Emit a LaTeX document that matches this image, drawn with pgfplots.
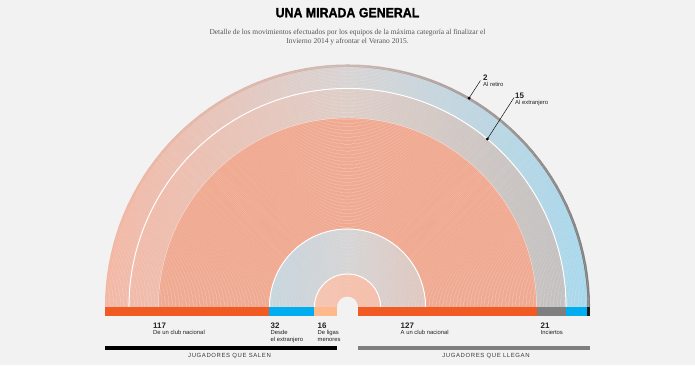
\documentclass[border=0pt]{standalone}
\usepackage{fontspec}
\setmainfont{Liberation Sans}
\newfontfamily\subfont{Liberation Serif}
\newfontfamily\capfont{Liberation Sans}[LetterSpace=10]
\newfontfamily\titlefont{Liberation Sans Bold}[FakeStretch=0.92, FakeBold=1.3]
\usepackage{pgfplots}
\pgfplotsset{compat=1.18}
\definecolor{bg}{HTML}{F2F2F2}
\definecolor{cOrange}{HTML}{F15A22}
\definecolor{cBlue}{HTML}{00AEEF}
\definecolor{cPeach}{HTML}{FDB98B}
\definecolor{cGray}{HTML}{7F7F7F}
\definecolor{cDark}{HTML}{1A1A1A}
\definecolor{arcOO}{HTML}{F1AA92}
\definecolor{txt}{HTML}{222222}
\definecolor{subtxt}{HTML}{555555}
\definecolor{captxt}{HTML}{3A3A3A}
\pgfplotsset{
  colormap={cmOD}{rgb255(0cm)=(243,182,163) rgb255(1cm)=(205,184,178) rgb255(2cm)=(130,130,130)},
  colormap={cmOB}{rgb255(0cm)=(244,184,165) rgb255(1cm)=(216,212,212) rgb255(2cm)=(168,216,237)},
  colormap={cmOG}{rgb255(0cm)=(244,184,165) rgb255(1cm)=(222,206,200) rgb255(2cm)=(192,192,192)},
  colormap={cmBO}{rgb255(0cm)=(166,215,236) rgb255(1cm)=(215,213,214) rgb255(2cm)=(241,170,146)},
  colormap={cmPO}{rgb255(0cm)=(249,218,202) rgb255(1cm)=(241,170,146)},
}
\begin{document}
\begin{tikzpicture}[x=1bp,y=1bp]
\path[use as bounding box, fill=bg] (0,0) rectangle (695,365);
\begin{axis}[
  x=1.405797bp, y=1.405797bp,
  xmin=-172.5, xmax=172.5, ymin=-10, ymax=175,
  hide axis, clip=false,
  anchor=south west, at={(105bp,43.942bp)},
  every axis plot/.append style={line cap=round, line join=round},
]
% arcs: slot i (0 = outermost) joins left slot i to right slot i, radius 172-i
\pgfplotsinvokeforeach{0,...,1}{
  \addplot[mesh, colormap name=cmOD, line width=1.5bp, domain=0:180, samples=73, point meta=x]
    ({(172-#1)*cos(x)},{(172-#1)*sin(x)});
}
\pgfplotsinvokeforeach{2,...,16}{
  \addplot[mesh, colormap name=cmOB, line width=1.5bp, domain=0:180, samples=73, point meta=x]
    ({(172-#1)*cos(x)},{(172-#1)*sin(x)});
}
\pgfplotsinvokeforeach{17,...,37}{
  \addplot[mesh, colormap name=cmOG, line width=1.5bp, domain=0:180, samples=73, point meta=x]
    ({(172-#1)*cos(x)},{(172-#1)*sin(x)});
}
\pgfplotsinvokeforeach{38,...,116}{
  \addplot[draw=arcOO, line width=1.5bp, domain=0:180, samples=37, smooth]
    ({(172-#1)*cos(x)},{(172-#1)*sin(x)});
}
\pgfplotsinvokeforeach{117,...,148}{
  \addplot[mesh, colormap name=cmBO, line width=1.5bp, domain=0:180, samples=49, point meta=x]
    ({(172-#1)*cos(x)},{(172-#1)*sin(x)});
}
\pgfplotsinvokeforeach{149,...,164}{
  \addplot[mesh, colormap name=cmPO, line width=1.5bp, domain=0:180, samples=31, point meta=x]
    ({(172-#1)*cos(x)},{(172-#1)*sin(x)});
}
% white separators between groups
\pgfplotsinvokeforeach{155.5,55.5,23.5}{
  \addplot[white, line width=1.0bp, domain=0:180, samples=37, smooth]
    ({#1*cos(x)},{#1*sin(x)});
}
\addplot[white, opacity=0.45, line width=0.6bp, domain=0:180, samples=37, smooth]
    ({134.5*cos(x)},{134.5*sin(x)});
% bars: salen 117, 32, 16 ; llegan 127, 21, 15, 2
\addplot[fill=cOrange, draw=none] coordinates {(-172.5,0) (-55.5,0) (-55.5,-6.4) (-172.5,-6.4)} --cycle;
\addplot[fill=cBlue, draw=none] coordinates {(-55.5,0) (-23.5,0) (-23.5,-6.4) (-55.5,-6.4)} --cycle;
\addplot[fill=cPeach, draw=none] coordinates {(-23.5,0) (-7.5,0) (-7.5,-6.4) (-23.5,-6.4)} --cycle;
\addplot[fill=cOrange, draw=none] coordinates {(7.5,0) (134.5,0) (134.5,-6.4) (7.5,-6.4)} --cycle;
\addplot[fill=cGray, draw=none] coordinates {(134.5,0) (155.5,0) (155.5,-6.4) (134.5,-6.4)} --cycle;
\addplot[fill=cBlue, draw=none] coordinates {(155.5,0) (170.5,0) (170.5,-6.4) (155.5,-6.4)} --cycle;
\addplot[fill=cDark, draw=none] coordinates {(170.5,0) (172.5,0) (172.5,-6.4) (170.5,-6.4)} --cycle;
% group rules
\addplot[fill=black, draw=none] coordinates {(-172.5,-27.7) (-7.5,-27.7) (-7.5,-30.6) (-172.5,-30.6)} --cycle;
\addplot[fill=cGray, draw=none] coordinates {(7.5,-27.7) (172.5,-27.7) (172.5,-30.6) (7.5,-30.6)} --cycle;
% annotations
\addplot[black, line width=0.45bp] coordinates {(86.5,148.6) (94.5,161.0)};
\addplot[black, line width=0.45bp] coordinates {(99.5,119.5) (118.4,148.9)};
\addplot[only marks, mark=*, mark size=1.3bp, black] coordinates {(86.5,148.6) (99.5,119.5)};
\end{axis}
% title and subtitle
\node[anchor=base, inner sep=0, text=black] at (347.5,347.7) {\titlefont\fontsize{13.5}{15}\selectfont UNA MIRADA GENERAL};
\node[anchor=base, inner sep=0, text=subtxt] at (347.5,331) {\subfont\fontsize{7.5}{9}\selectfont Detalle de los movimientos efectuados por los equipos de la máxima categoría al finalizar el};
\node[anchor=base, inner sep=0, text=subtxt] at (347.5,322) {\subfont\fontsize{7.5}{9}\selectfont Invierno 2014 y afrontar el Verano 2015.};
% bottom labels
\newcommand{\num}[3]{%
  \node[anchor=base west, inner sep=0, text=txt] at (#1,36.7) {\bfseries\fontsize{8}{9}\selectfont #2};
  \node[anchor=base west, inner sep=0, text=txt, align=left] at (#1,30.5) {\fontsize{5.9}{6.9}\selectfont #3};}
\num{153}{117}{De un club nacional}
\node[anchor=base west, inner sep=0, text=txt] at (270.5,36.7) {\bfseries\fontsize{8}{9}\selectfont 32};
\node[anchor=base west, inner sep=0, text=txt] at (270.5,30.5) {\fontsize{5.9}{6.9}\selectfont Desde};
\node[anchor=base west, inner sep=0, text=txt] at (270.5,23.6) {\fontsize{5.9}{6.9}\selectfont el extranjero};
\node[anchor=base west, inner sep=0, text=txt] at (317.5,36.7) {\bfseries\fontsize{8}{9}\selectfont 16};
\node[anchor=base west, inner sep=0, text=txt] at (317.5,30.5) {\fontsize{5.9}{6.9}\selectfont De ligas};
\node[anchor=base west, inner sep=0, text=txt] at (317.5,23.6) {\fontsize{5.9}{6.9}\selectfont menores};
\num{400.5}{127}{A un club nacional}
\num{540.5}{21}{Inciertos}
% upper annotations
\node[anchor=base west, inner sep=0, text=txt] at (483,284.3) {\bfseries\fontsize{8}{9}\selectfont 2};
\node[anchor=base west, inner sep=0, text=txt] at (483,278.3) {\fontsize{5.9}{6.9}\selectfont Al retiro};
\node[anchor=base west, inner sep=0, text=txt] at (515,266.7) {\bfseries\fontsize{8}{9}\selectfont 15};
\node[anchor=base west, inner sep=0, text=txt] at (515,260.7) {\fontsize{5.9}{6.9}\selectfont Al extranjero};
% group captions
\node[anchor=base, inner sep=0, text=captxt] at (229.5,7.6) {\capfont\fontsize{6}{7}\selectfont JUGADORES QUE SALEN};
\node[anchor=base, inner sep=0, text=captxt] at (486,7.6) {\capfont\fontsize{6}{7}\selectfont JUGADORES QUE LLEGAN};
\end{tikzpicture}
\end{document}
